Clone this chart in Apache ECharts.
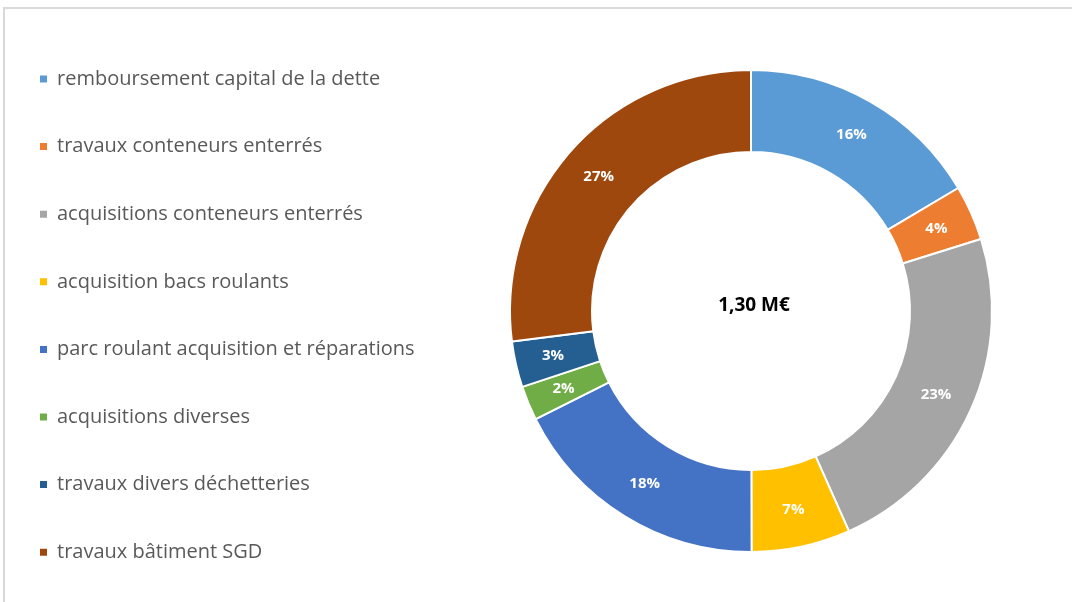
<!DOCTYPE html>
<html>
<head>
<meta charset="utf-8">
<script src="https://cdn.jsdelivr.net/npm/echarts@6/dist/echarts.min.js"></script>
<style>
  html, body { margin: 0; padding: 0; background: #fff; }
  #frame {
    position: absolute; left: 3px; top: 7px; width: 1100px; height: 620px;
    border-top: 2px solid #d9d9d9; border-left: 2px solid #d9d9d9;
  }
  #main { position: absolute; left: 0; top: 0; width: 1072px; height: 602px; }
</style>
</head>
<body>
<div id="frame"></div>
<div id="main"></div>
<script>
// postes de dépense (k€)
var categories = [
  'remboursement capital de la dette',
  'travaux conteneurs enterrés',
  'acquisitions conteneurs enterrés',
  'acquisition bacs roulants',
  'parc roulant acquisition et réparations',
  'acquisitions diverses',
  'travaux divers déchetteries',
  'travaux bâtiment SGD'
];
var values = [214, 48, 301, 86, 229, 30, 40, 351];
var colors = ['#5B9BD5', '#ED7D31', '#A5A5A5', '#FFC000', '#4472C4', '#70AD47', '#255E91', '#9E480E'];
var totalLabel = '1,30 M€';

var chart = echarts.init(document.getElementById('main'), null, { renderer: 'canvas' });

var pieData = categories.map(function (name, i) {
  return { name: name, value: values[i] };
});

var option = {
  animation: false,
  color: colors,
  legend: {
    orient: 'vertical',
    left: 38,
    top: 69,
    padding: 0,
    itemGap: 47.6,
    itemWidth: 9,
    itemHeight: 9,
    icon: 'rect',
    data: categories,
    textStyle: {
      fontFamily: 'Open Sans',
      fontSize: 20,
      color: '#595959',
      lineHeight: 20,
      padding: [0, 0, 0, 4]
    }
  },
  graphic: [{
    type: 'text',
    x: 754, y: 306,
    style: {
      text: totalLabel,
      align: 'center',
      verticalAlign: 'middle',
      font: 'bold 19px "Open Sans"',
      fill: '#000'
    }
  }],
  series: [{
    type: 'pie',
    center: [751, 311],
    radius: [159, 241],
    startAngle: 90,
    clockwise: true,
    avoidLabelOverlap: false,
    itemStyle: { borderColor: '#fff', borderWidth: 2 },
    label: {
      position: 'inside',
      color: '#fff',
      fontWeight: 'bold',
      fontFamily: 'Open Sans',
      fontSize: 15,
      formatter: function (p) { return Math.round(p.percent) + '%'; }
    },
    labelLine: { show: false },
    data: pieData
  }]
};

chart.setOption(option);
</script>
</body>
</html>
